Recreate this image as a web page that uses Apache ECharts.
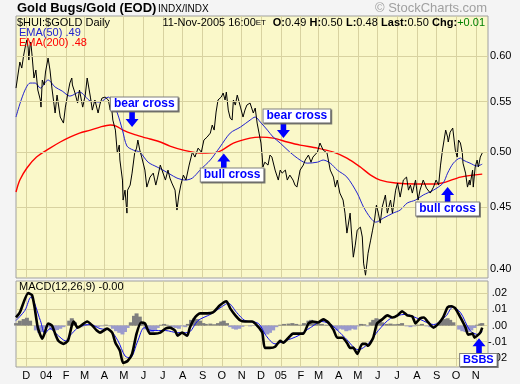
<!DOCTYPE html>
<html><head><meta charset="utf-8">
<script src="https://cdn.jsdelivr.net/npm/echarts@6/dist/echarts.min.js"></script>
<style>html,body{margin:0;padding:0;background:#f4f4f4}#c{width:520px;height:384px}</style>
</head><body><div id="c"></div>
<script>
// ---------- data ----------
const monthTicks = ['2003-12-01','2004-01-01','2004-02-01','2004-03-01','2004-04-01','2004-05-01','2004-06-01','2004-07-01','2004-08-01','2004-09-01','2004-10-01','2004-11-01','2004-12-01','2005-01-01','2005-02-01','2005-03-01','2005-04-01','2005-05-01','2005-06-01','2005-07-01','2005-08-01','2005-09-01','2005-10-01','2005-11-01'];
const monthLabels = ['D','04','F','M','A','M','J','J','A','S','O','N','D','05','F','M','A','M','J','J','A','S','O','N'];
const priceTicks = [0.40,0.45,0.50,0.55,0.60];
const macdTicks = [-0.02,-0.01,0,0.01,0.02];

const price = [
['2003-11-15',0.5645],['2003-11-18',0.5787],['2003-11-21',0.5932],['2003-11-24',0.5864],['2003-11-27',0.6011],['2003-11-30',0.6127],
['2003-12-02',0.6186],['2003-12-04',0.6092],['2003-12-05',0.5954],['2003-12-07',0.6127],['2003-12-08',0.6162],['2003-12-10',0.6011],
['2003-12-13',0.5754],['2003-12-16',0.5842],['2003-12-19',0.5624],['2003-12-23',0.5518],['2003-12-24',0.5444],['2003-12-26',0.5732],
['2003-12-29',0.5678],['2003-12-31',0.5820],['2004-01-04',0.5977],['2004-01-07',0.5842],['2004-01-10',0.5645],['2004-01-15',0.5383],
['2004-01-18',0.5570],['2004-01-23',0.5342],['2004-01-28',0.5281],['2004-01-31',0.5444],['2004-02-04',0.5592],['2004-02-07',0.5699],
['2004-02-10',0.5754],['2004-02-11',0.5678],['2004-02-15',0.5592],['2004-02-19',0.5486],['2004-02-22',0.5624],['2004-02-27',0.5444],
['2004-03-02',0.5570],['2004-03-05',0.5754],['2004-03-10',0.5549],['2004-03-13',0.5413],['2004-03-17',0.5518],['2004-03-22',0.5383],
['2004-03-25',0.5476],['2004-03-28',0.5538],['2004-04-02',0.5549],['2004-04-07',0.5518],['2004-04-10',0.5413],['2004-04-11',0.5518],
['2004-04-14',0.5311],['2004-04-18',0.5211],['2004-04-21',0.4988],['2004-04-24',0.5064],['2004-04-25',0.4922],['2004-04-29',0.4738],
['2004-04-30',0.4561],['2004-05-03',0.4648],['2004-05-06',0.4449],['2004-05-07',0.4648],['2004-05-11',0.4693],['2004-05-14',0.4801],
['2004-05-18',0.4988],['2004-05-21',0.5035],['2004-05-23',0.5113],['2004-05-26',0.5016],['2004-05-29',0.4950],['2004-06-03',0.4829],
['2004-06-06',0.4675],['2004-06-11',0.4765],['2004-06-16',0.4801],['2004-06-20',0.4693],['2004-06-23',0.4765],['2004-06-27',0.4875],
['2004-06-30',0.4857],['2004-07-05',0.4738],['2004-07-09',0.4829],['2004-07-12',0.4756],['2004-07-15',0.4711],['2004-07-20',0.4648],
['2004-07-23',0.4475],['2004-07-26',0.4605],['2004-07-29',0.4693],['2004-08-02',0.4783],['2004-08-06',0.4738],['2004-08-11',0.4875],
['2004-08-16',0.4997],['2004-08-20',0.4950],['2004-08-25',0.5035],['2004-08-30',0.4997],['2004-09-03',0.5113],['2004-09-08',0.5142],
['2004-09-13',0.5181],['2004-09-16',0.5261],['2004-09-19',0.5211],['2004-09-22',0.5393],['2004-09-25',0.5518],['2004-09-30',0.5549],
['2004-10-03',0.5592],['2004-10-06',0.5518],['2004-10-08',0.5602],['2004-10-11',0.5413],['2004-10-14',0.5332],['2004-10-17',0.5311],
['2004-10-19',0.5518],['2004-10-22',0.5465],['2004-10-25',0.5570],['2004-10-30',0.5444],['2004-11-03',0.5342],['2004-11-06',0.5413],
['2004-11-09',0.5465],['2004-11-14',0.5486],['2004-11-19',0.5383],['2004-11-22',0.5434],['2004-11-25',0.5281],['2004-11-28',0.5181],
['2004-12-01',0.5084],['2004-12-03',0.4950],['2004-12-04',0.4857],['2004-12-07',0.4902],['2004-12-12',0.4875],['2004-12-15',0.4969],
['2004-12-18',0.4950],['2004-12-23',0.4829],['2004-12-28',0.4738],['2004-12-31',0.4829],['2005-01-03',0.4801],['2005-01-08',0.4829],
['2005-01-11',0.4738],['2005-01-15',0.4783],['2005-01-20',0.4738],['2005-01-23',0.4693],['2005-01-26',0.4675],['2005-01-31',0.4829],
['2005-02-05',0.4875],['2005-02-08',0.4922],['2005-02-13',0.4969],['2005-02-17',0.4902],['2005-02-20',0.4950],['2005-02-27',0.4997],
['2005-03-03',0.5084],['2005-03-08',0.5016],['2005-03-14',0.4988],['2005-03-19',0.4829],['2005-03-24',0.4765],['2005-03-27',0.4675],
['2005-03-30',0.4738],['2005-04-03',0.4622],['2005-04-08',0.4561],['2005-04-11',0.4449],['2005-04-14',0.4283],['2005-04-19',0.4449],
['2005-04-22',0.4226],['2005-04-24',0.4091],['2005-04-27',0.4186],['2005-04-30',0.4307],['2005-05-05',0.4332],['2005-05-08',0.4251],
['2005-05-10',0.4045],['2005-05-13',0.3953],['2005-05-17',0.4122],['2005-05-21',0.4226],['2005-05-24',0.4307],['2005-05-27',0.4390],
['2005-05-30',0.4517],['2005-06-02',0.4449],['2005-06-05',0.4365],['2005-06-08',0.4500],['2005-06-13',0.4605],['2005-06-16',0.4449],
['2005-06-21',0.4561],['2005-06-24',0.4449],['2005-06-29',0.4648],['2005-07-02',0.4711],['2005-07-06',0.4587],['2005-07-11',0.4738],
['2005-07-16',0.4765],['2005-07-19',0.4648],['2005-07-22',0.4693],['2005-07-25',0.4622],['2005-07-30',0.4738],['2005-08-03',0.4561],
['2005-08-06',0.4648],['2005-08-11',0.4738],['2005-08-16',0.4666],['2005-08-22',0.4622],['2005-08-27',0.4675],['2005-08-31',0.4738],
['2005-09-04',0.4693],['2005-09-07',0.4875],['2005-09-10',0.5016],['2005-09-15',0.5211],['2005-09-18',0.5142],['2005-09-19',0.5094],
['2005-09-22',0.5191],['2005-09-26',0.5231],['2005-09-27',0.5241],['2005-09-30',0.5016],['2005-10-03',0.4950],['2005-10-05',0.5113],
['2005-10-08',0.5084],['2005-10-11',0.4988],['2005-10-12',0.4893],['2005-10-16',0.4801],['2005-10-19',0.4675],['2005-10-22',0.4738],
['2005-10-23',0.4693],['2005-10-27',0.4829],['2005-10-28',0.4675],['2005-10-31',0.4857],['2005-11-03',0.4922],['2005-11-05',0.4857],
['2005-11-08',0.4950],['2005-11-11',0.4988]
];

const ema50 = [
['2003-11-15',0.5342],['2003-12-07',0.5699],['2003-12-15',0.5699],['2003-12-23',0.5645],['2004-01-04',0.5732],['2004-01-15',0.5656],
['2004-01-26',0.5613],['2004-02-07',0.5559],['2004-02-22',0.5602],['2004-03-10',0.5507],['2004-03-25',0.5497],['2004-04-07',0.5549],
['2004-04-14',0.5486],['2004-04-21',0.5383],['2004-04-29',0.5211],['2004-05-06',0.5055],['2004-05-16',0.5016],['2004-05-26',0.4997],
['2004-06-08',0.4902],['2004-06-22',0.4857],['2004-07-01',0.4829],['2004-07-12',0.4792],['2004-07-23',0.4756],['2004-08-05',0.4738],
['2004-08-16',0.4756],['2004-08-28',0.4829],['2004-09-13',0.4922],['2004-09-28',0.5045],['2004-10-14',0.5181],['2004-10-30',0.5241],
['2004-11-14',0.5311],['2004-11-22',0.5342],['2004-11-30',0.5291],['2004-12-11',0.5211],['2004-12-20',0.5142],['2004-12-31',0.5084],
['2005-01-15',0.4997],['2005-01-31',0.4922],['2005-02-11',0.4893],['2005-02-27',0.4902],['2005-03-08',0.4922],['2005-03-19',0.4893],
['2005-03-30',0.4829],['2005-04-14',0.4765],['2005-04-30',0.4622],['2005-05-10',0.4500],['2005-05-21',0.4407],['2005-05-29',0.4373],
['2005-06-10',0.4407],['2005-06-25',0.4449],['2005-07-06',0.4475],['2005-07-17',0.4535],['2005-07-30',0.4561],['2005-08-11',0.4605],
['2005-08-27',0.4648],['2005-09-11',0.4711],['2005-09-18',0.4801],['2005-09-27',0.4893],['2005-10-08',0.4941],['2005-10-12',0.4922],
['2005-10-23',0.4893],['2005-11-03',0.4866],['2005-11-11',0.4884]
];

const ema200 = [
['2003-11-15',0.4631],['2003-11-21',0.4738],['2003-12-02',0.4848],['2003-12-17',0.4950],['2004-01-07',0.5035],['2004-01-23',0.5094],
['2004-02-07',0.5142],['2004-02-22',0.5181],['2004-03-10',0.5211],['2004-03-25',0.5241],['2004-04-10',0.5261],['2004-04-19',0.5251],
['2004-04-30',0.5211],['2004-05-16',0.5171],['2004-05-31',0.5142],['2004-06-11',0.5123],['2004-06-27',0.5094],['2004-07-12',0.5055],
['2004-08-02',0.5016],['2004-08-28',0.4988],['2004-09-24',0.4997],['2004-10-19',0.5084],['2004-11-14',0.5132],['2004-11-30',0.5142],
['2004-12-20',0.5132],['2005-01-11',0.5094],['2005-01-31',0.5064],['2005-02-27',0.5035],['2005-03-24',0.4997],['2005-04-14',0.4941],
['2005-05-05',0.4857],['2005-05-21',0.4783],['2005-06-05',0.4738],['2005-06-29',0.4711],['2005-07-30',0.4702],['2005-08-27',0.4702],
['2005-09-15',0.4720],['2005-10-08',0.4765],['2005-11-11',0.4792]
];

const macd = [
['2003-11-15',0.0050],['2003-11-21',0.0081],['2003-12-04',0.0200],['2003-12-10',0.0188],['2003-12-14',0.0113],['2003-12-19',-0.0013],
['2003-12-26',-0.0081],['2003-12-30',-0.0044],['2004-01-04',0.0013],['2004-01-10',0.0000],['2004-01-15',-0.0050],['2004-01-20',-0.0094],
['2004-01-28',-0.0113],['2004-02-04',-0.0094],['2004-02-10',0.0000],['2004-02-13',0.0025],['2004-02-19',-0.0013],['2004-03-05',0.0025],
['2004-03-13',0.0000],['2004-03-20',-0.0031],['2004-03-25',-0.0044],['2004-04-05',-0.0019],['2004-04-13',-0.0044],['2004-04-18',-0.0106],
['2004-04-25',-0.0156],['2004-04-30',-0.0231],['2004-05-07',-0.0219],['2004-05-14',-0.0175],['2004-05-21',-0.0050],['2004-05-28',0.0019],
['2004-06-03',0.0013],['2004-06-11',-0.0050],['2004-06-18',-0.0050],['2004-06-27',-0.0044],['2004-07-05',-0.0019],['2004-07-12',-0.0013],
['2004-07-20',-0.0031],['2004-07-24',-0.0063],['2004-07-31',-0.0044],['2004-08-08',-0.0063],['2004-08-12',-0.0013],['2004-08-20',0.0050],
['2004-08-28',0.0075],['2004-09-08',0.0075],['2004-09-17',0.0081],['2004-09-28',0.0125],['2004-10-08',0.0150],['2004-10-14',0.0106],
['2004-10-22',0.0063],['2004-10-30',0.0031],['2004-11-06',0.0025],['2004-11-17',0.0025],['2004-11-25',0.0000],['2004-12-03',-0.0044],
['2004-12-07',-0.0138],['2004-12-15',-0.0138],['2004-12-23',-0.0131],['2004-12-31',-0.0094],['2005-01-05',-0.0106],['2005-01-13',-0.0075],
['2005-01-20',-0.0050],['2005-01-28',-0.0050],['2005-02-05',-0.0050],['2005-02-13',0.0013],['2005-02-20',0.0025],['2005-02-28',0.0019],
['2005-03-08',0.0038],['2005-03-16',0.0019],['2005-03-24',-0.0025],['2005-03-30',-0.0075],['2005-04-07',-0.0075],['2005-04-14',-0.0106],
['2005-04-19',-0.0138],['2005-04-24',-0.0138],['2005-04-30',-0.0175],['2005-05-08',-0.0113],['2005-05-13',-0.0113],['2005-05-17',-0.0125],
['2005-05-25',-0.0075],['2005-05-31',0.0013],['2005-06-08',0.0038],['2005-06-16',0.0063],['2005-06-24',0.0050],['2005-07-02',0.0063],
['2005-07-09',0.0088],['2005-07-17',0.0063],['2005-07-25',0.0056],['2005-07-30',0.0013],['2005-08-06',0.0044],['2005-08-12',0.0050],
['2005-08-19',0.0019],['2005-08-27',-0.0013],['2005-09-04',0.0013],['2005-09-11',0.0050],['2005-09-18',0.0113],['2005-09-24',0.0119],
['2005-09-30',0.0106],['2005-10-08',0.0050],['2005-10-16',-0.0013],['2005-10-20',-0.0056],['2005-10-27',-0.0050],['2005-10-30',-0.0075],
['2005-11-03',-0.0063],['2005-11-08',-0.0044],['2005-11-11',-0.0013]
];

const signal = [
['2003-11-15',0.0031],['2003-11-29',0.0094],['2003-12-08',0.0175],['2003-12-23',0.0031],['2003-12-30',-0.0050],['2004-01-07',-0.0019],
['2004-01-20',-0.0063],['2004-01-31',-0.0094],['2004-02-10',-0.0050],['2004-02-22',-0.0006],['2004-03-10',0.0006],['2004-03-25',-0.0019],
['2004-04-10',-0.0031],['2004-04-22',-0.0094],['2004-05-03',-0.0188],['2004-05-11',-0.0200],['2004-05-23',-0.0094],['2004-06-02',-0.0013],
['2004-06-14',-0.0031],['2004-07-05',-0.0031],['2004-07-24',-0.0044],['2004-08-09',-0.0044],['2004-08-25',0.0031],['2004-09-13',0.0069],
['2004-10-02',0.0119],['2004-10-11',0.0138],['2004-10-24',0.0081],['2004-11-06',0.0031],['2004-11-27',0.0013],['2004-12-09',-0.0063],
['2004-12-23',-0.0113],['2005-01-08',-0.0094],['2005-01-28',-0.0063],['2005-02-16',-0.0013],['2005-03-06',0.0025],['2005-03-22',0.0000],
['2005-04-11',-0.0075],['2005-05-02',-0.0150],['2005-05-17',-0.0113],['2005-06-02',-0.0031],['2005-06-21',0.0044],['2005-07-14',0.0069],
['2005-08-06',0.0038],['2005-08-27',0.0006],['2005-09-15',0.0056],['2005-09-26',0.0113],['2005-10-08',0.0081],['2005-10-23',-0.0031],
['2005-11-05',-0.0056],['2005-11-11',-0.0038]
];

const histogram = [
['2003-11-15',0.0015],['2003-11-21',0.0030],['2003-11-27',0.0040],['2003-12-02',0.0048],['2003-12-07',0.0030],['2003-12-11',0.0000],
['2003-12-16',-0.0030],['2003-12-21',-0.0045],['2003-12-26',-0.0040],['2003-12-30',-0.0015],['2004-01-04',-0.0010],['2004-01-09',-0.0025],
['2004-01-14',-0.0030],['2004-01-18',-0.0028],['2004-01-23',-0.0020],['2004-01-28',-0.0010],['2004-02-01',0.0000],['2004-02-06',0.0030],
['2004-02-10',0.0045],['2004-02-15',0.0020],['2004-02-19',0.0000],['2004-02-25',-0.0010],['2004-03-03',0.0008],['2004-03-10',0.0005],
['2004-03-16',-0.0008],['2004-03-22',-0.0010],['2004-03-28',-0.0005],['2004-04-03',0.0005],['2004-04-10',-0.0005],['2004-04-14',-0.0020],
['2004-04-19',-0.0035],['2004-04-24',-0.0045],['2004-04-29',-0.0055],['2004-05-03',-0.0040],['2004-05-07',-0.0015],['2004-05-12',0.0020],
['2004-05-17',0.0060],['2004-05-21',0.0075],['2004-05-26',0.0055],['2004-05-31',0.0010],['2004-06-05',-0.0025],['2004-06-09',-0.0040],
['2004-06-14',-0.0040],['2004-06-19',-0.0030],['2004-06-23',-0.0015],['2004-06-28',0.0005],['2004-07-03',0.0010],['2004-07-07',0.0005],
['2004-07-12',-0.0005],['2004-07-17',-0.0010],['2004-07-21',-0.0015],['2004-07-26',-0.0020],['2004-07-31',-0.0005],['2004-08-05',-0.0010],
['2004-08-09',0.0010],['2004-08-14',0.0035],['2004-08-19',0.0045],['2004-08-23',0.0040],['2004-08-28',0.0030],['2004-09-02',0.0015],
['2004-09-06',0.0010],['2004-09-13',0.0012],['2004-09-19',0.0008],['2004-09-25',0.0015],['2004-09-30',0.0025],['2004-10-04',0.0030],
['2004-10-09',0.0015],['2004-10-14',-0.0010],['2004-10-19',-0.0020],['2004-10-23',-0.0025],['2004-10-28',-0.0020],['2004-11-02',-0.0008],
['2004-11-08',0.0000],['2004-11-14',-0.0005],['2004-11-20',-0.0003],['2004-11-27',-0.0010],['2004-12-01',-0.0030],['2004-12-06',-0.0050],
['2004-12-11',-0.0055],['2004-12-15',-0.0045],['2004-12-20',-0.0030],['2004-12-25',-0.0010],['2004-12-31',0.0005],['2005-01-06',0.0010],
['2005-01-13',0.0012],['2005-01-19',0.0015],['2005-01-25',0.0010],['2005-01-31',0.0005],['2005-02-06',0.0015],['2005-02-13',0.0030],
['2005-02-17',0.0035],['2005-02-22',0.0025],['2005-02-28',0.0012],['2005-03-06',0.0010],['2005-03-13',0.0005],['2005-03-19',0.0008],
['2005-03-25',-0.0010],['2005-03-30',-0.0030],['2005-04-03',-0.0020],['2005-04-08',-0.0025],['2005-04-13',-0.0035],['2005-04-18',-0.0030],
['2005-04-22',-0.0020],['2005-04-27',-0.0025],['2005-05-02',-0.0005],['2005-05-06',0.0010],['2005-05-11',0.0008],['2005-05-16',-0.0005],
['2005-05-21',0.0020],['2005-05-25',0.0035],['2005-05-30',0.0045],['2005-06-04',0.0040],['2005-06-08',0.0020],['2005-06-15',0.0010],
['2005-06-21',0.0012],['2005-06-27',0.0008],['2005-07-03',0.0010],['2005-07-09',0.0015],['2005-07-16',-0.0005],['2005-07-22',-0.0010],
['2005-07-28',-0.0005],['2005-08-03',0.0005],['2005-08-09',0.0010],['2005-08-16',-0.0005],['2005-08-22',-0.0010],['2005-08-28',-0.0005],
['2005-09-04',0.0010],['2005-09-08',0.0030],['2005-09-13',0.0040],['2005-09-18',0.0045],['2005-09-22',0.0035],['2005-09-27',0.0020],
['2005-10-02',0.0000],['2005-10-06',-0.0025],['2005-10-11',-0.0035],['2005-10-16',-0.0040],['2005-10-20',-0.0040],['2005-10-25',-0.0030],
['2005-10-30',-0.0015],['2005-11-03',0.0005],['2005-11-08',0.0012],['2005-11-11',0.0015]
];

// annotations: text boxes and arrows, anchored in data coordinates
const priceNotes = [
  { text: 'bear cross', date: '2004-06-02', value: 0.5476 },
  { text: 'bull cross', date: '2004-10-17', value: 0.4783 },
  { text: 'bear cross', date: '2005-01-26', value: 0.5352 },
  { text: 'bull cross', date: '2005-09-18', value: 0.4483 }
];
const priceArrows = [
  { dir: 'down', date: '2004-05-14', value: 0.5316 },
  { dir: 'up',   date: '2004-10-04', value: 0.4912 },
  { dir: 'down', date: '2005-01-05', value: 0.5206 },
  { dir: 'up',   date: '2005-09-18', value: 0.4609 }
];
const macdNotes = [ { text: 'BSBS', date: '2005-11-05', value: -0.02125 } ];
const macdArrows = [ { dir: 'up', date: '2005-11-06', value: -0.0125 } ];

const headerTitle = 'Gold Bugs/Gold (EOD)';
const headerExchange = 'INDX/INDX';
const symbolLine = '$HUI:$GOLD Daily';
const quote = { date: '11-Nov-2005 16:00', o: '0.49', h: '0.50', l: '0.48', last: '0.50', chg: '+0.01' };
const ema50Label = 'EMA(50) .49';
const ema200Label = 'EMA(200) .48';
const macdLabel = 'MACD(12,26,9) -0.00';

// ---------- chart ----------
const FONT = '"Liberation Sans", Arial, sans-serif';
const panelBg = '#FAF8C9';
const gridColor = '#D8D2A0';
const borderColor = '#A0A0A0';
const T = s => +echarts.time.parse(s);
const toXY = arr => arr.map(d => [T(d[0]), d[1]]);
const xMin = T('2003-11-15'), xMax = T('2005-11-20');
const tickTimes = monthTicks.map(T);
const labelByTime = {};
tickTimes.forEach((t, i) => labelByTime[t] = monthLabels[i]);

const arrowDown = 'path://M4,0L10,0L10,7L14,7L7,15L0,7L4,7Z';
const arrowUp = 'path://M7,0L14,8L10,8L10,15L4,15L4,8L0,8Z';

function noteItem(n, fs, pad) {
  return {
    coord: [T(n.date), n.value], symbol: 'rect', symbolSize: 1,
    itemStyle: { color: 'rgba(0,0,0,0)' },
    label: {
      show: true, position: 'inside', formatter: n.text,
      color: '#0000FF', fontFamily: FONT, fontWeight: 'bold', fontSize: fs,
      backgroundColor: '#FFFFFF', borderColor: '#7F7F7F', borderWidth: 1,
      padding: pad, shadowColor: 'rgba(90,90,90,0.8)', shadowOffsetX: 1, shadowOffsetY: 1
    }
  };
}
function arrowItem(a) {
  return {
    coord: [T(a.date), a.value], symbol: a.dir === 'up' ? arrowUp : arrowDown,
    symbolSize: [13, 15], itemStyle: { color: '#0000FF' }, label: { show: false }
  };
}

function xAxisCfg(gi, showLabels) {
  return {
    type: 'value', gridIndex: gi, min: xMin, max: xMax,
    axisLine: { show: false },
    axisTick: { show: false, customValues: tickTimes },
    axisLabel: {
      show: showLabels, customValues: tickTimes, margin: 3,
      fontFamily: FONT, fontSize: 11, color: '#000',
      formatter: v => labelByTime[v] !== undefined ? labelByTime[v] : ''
    },
    splitLine: { show: true, customValues: tickTimes, lineStyle: { color: gridColor, width: 1 } }
  };
}

const option = {
  animation: false,
  backgroundColor: '#f4f4f4',
  grid: [
    { left: 16, top: 16, width: 472, height: 262, show: true, backgroundColor: panelBg, borderColor: borderColor, borderWidth: 1 },
    { left: 16, top: 281, width: 472, height: 86, show: true, backgroundColor: panelBg, borderColor: borderColor, borderWidth: 1 }
  ],
  xAxis: [ xAxisCfg(0, false), xAxisCfg(1, true) ],
  yAxis: [
    { type: 'log', gridIndex: 0, position: 'right', min: 0.3932, max: 0.6475,
      axisLine: { show: false }, axisTick: { show: false }, axisLabel: { show: false }, splitLine: { show: false } },
    { type: 'value', gridIndex: 1, position: 'right', min: -0.0256, max: 0.0275,
      axisLine: { show: false },
      axisTick: { show: false, customValues: macdTicks },
      axisLabel: { customValues: macdTicks, align: 'right', margin: 19, fontFamily: FONT, fontSize: 11, color: '#000',
        formatter: v => { const a = Math.abs(v); const s = '.' + String(Math.round(a * 100)).padStart(2, '0'); return (v < -1e-9 ? '-' : '') + s; } },
      splitLine: { show: true, customValues: macdTicks, lineStyle: { color: gridColor, width: 1 } } }
  ],
  series: [
    { name: 'grid', type: 'line', xAxisIndex: 0, yAxisIndex: 0, data: [], z: 1, silent: true,
      markLine: { silent: true, symbol: 'none', animation: false,
        lineStyle: { color: gridColor, type: 'solid', width: 1 },
        label: { show: true, position: 'end', distance: 2, color: '#000', fontFamily: FONT, fontSize: 11,
          formatter: p => Number(p.value).toFixed(2) },
        data: priceTicks.map(v => ({ yAxis: v })) } },
    { name: 'EMA200', type: 'line', xAxisIndex: 0, yAxisIndex: 0, data: toXY(ema200), showSymbol: false, smooth: 0.3, z: 3,
      lineStyle: { color: '#FF0000', width: 1.4 } },
    { name: 'EMA50', type: 'line', xAxisIndex: 0, yAxisIndex: 0, data: toXY(ema50), showSymbol: false, smooth: 0.3, z: 3,
      lineStyle: { color: '#2222D0', width: 1 } },
    { name: 'price', type: 'line', xAxisIndex: 0, yAxisIndex: 0, data: toXY(price), showSymbol: false, z: 4,
      lineStyle: { color: '#000000', width: 1 },
      markPoint: { silent: true, animation: false, z: 10,
        data: priceNotes.map(n => noteItem(n, 12, [1, 3, 0, 3])).concat(priceArrows.map(arrowItem)) } },
    { name: 'hist', type: 'bar', xAxisIndex: 1, yAxisIndex: 1, data: toXY(histogram), barWidth: 4, z: 2,
      itemStyle: { color: p => p.value[1] >= 0 ? '#7E7E7E' : '#9A9ACC' } },
    { name: 'signal', type: 'line', xAxisIndex: 1, yAxisIndex: 1, data: toXY(signal), showSymbol: false, smooth: 0.3, z: 3,
      lineStyle: { color: '#1010F0', width: 1 } },
    { name: 'macd', type: 'line', xAxisIndex: 1, yAxisIndex: 1, data: toXY(macd), showSymbol: false, smooth: 0.2, z: 4,
      lineStyle: { color: '#000000', width: 2.6 },
      markPoint: { silent: true, animation: false, z: 10,
        data: macdNotes.map(n => noteItem(n, 11, [1, 3, 0, 3])).concat(macdArrows.map(arrowItem)) } }
  ],
  graphic: [
    { type: 'text', left: 17, top: 2, style: { text: headerTitle, font: 'bold 13px ' + FONT, fill: '#000' } },
    { type: 'text', left: 158, top: 4, style: { text: headerExchange, font: '10px ' + FONT, fill: '#000' } },
    { type: 'text', left: 375, top: 2, style: { text: '\u00A9 StockCharts.com', font: '13px ' + FONT, fill: '#A0A0A0' } },
    { type: 'text', left: 17, top: 17, z: 20, style: { text: symbolLine, font: '11px ' + FONT, fill: '#000' } },
    { type: 'text', right: 35, top: 17, z: 20, style: {
        text: '{n|' + quote.date + '}{s|ET}  {b|O:}{n|' + quote.o + '} {b|H:}{n|' + quote.h + '} {b|L:}{n|' + quote.l + '} {b|Last:}{n|' + quote.last + '} {b|Chg:}{g|' + quote.chg + '}',
        rich: {
          n: { font: '11px ' + FONT, fill: '#000' },
          s: { font: '8px ' + FONT, fill: '#000' },
          b: { font: 'bold 11px ' + FONT, fill: '#000' },
          g: { font: '11px ' + FONT, fill: '#008000' }
        } } },
    { type: 'text', left: 19, top: 27, z: 20, style: { text: ema50Label, font: '11px ' + FONT, fill: '#2222D0' } },
    { type: 'text', left: 19, top: 37, z: 20, style: { text: ema200Label, font: '11px ' + FONT, fill: '#FF0000' } },
    { type: 'text', left: 19, top: 281, z: 20, style: { text: macdLabel, font: '11px ' + FONT, fill: '#000' } }
  ]
};

const chart = echarts.init(document.getElementById('c'), null, { renderer: 'canvas' });
chart.setOption(option);
</script>
</body></html>
